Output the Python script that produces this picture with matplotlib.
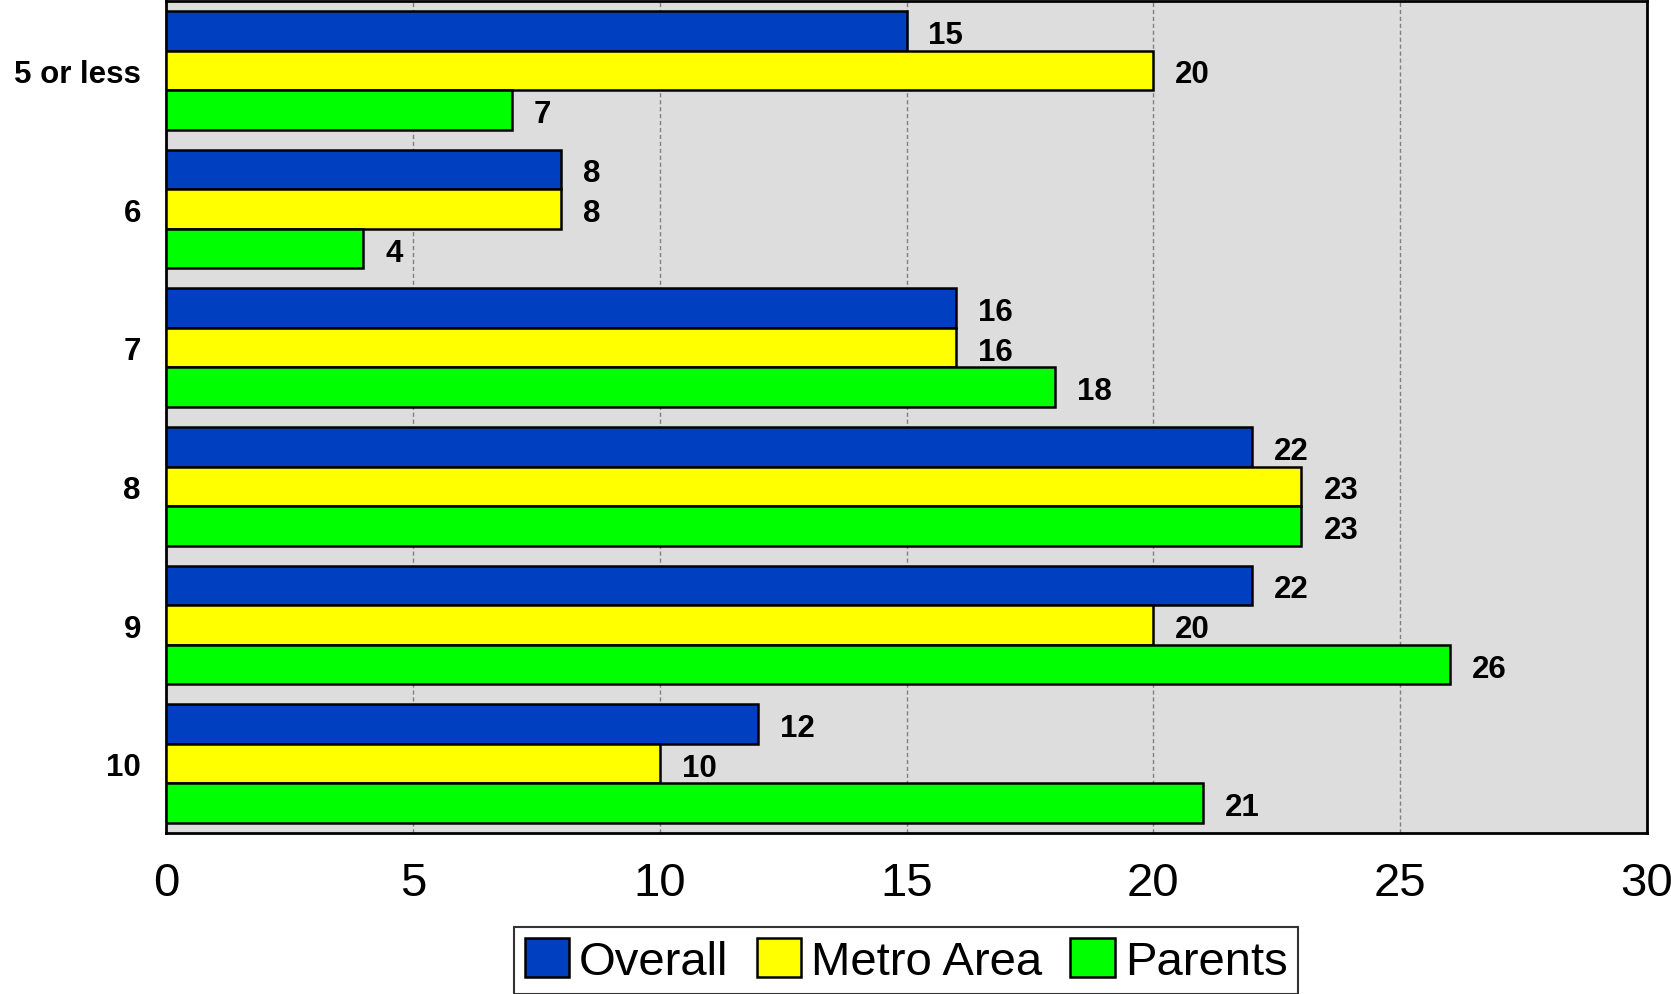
import numpy as np
import matplotlib
matplotlib.use('Agg')
import matplotlib.pyplot as plt

plt.rcParams['font.family'] = ['Liberation Sans', 'DejaVu Sans']

# Данные
categories = ['5 or less', '6', '7', '8', '9', '10']
overall = [15, 8, 16, 22, 22, 12]
metro = [20, 8, 16, 23, 20, 10]
parents = [7, 4, 18, 23, 26, 21]
series = [('Overall', overall, '#0040C0'),
          ('Metro Area', metro, '#FFFF00'),
          ('Parents', parents, '#00FF00')]

fig = plt.figure(figsize=(16.71, 9.95), dpi=100)
ax = fig.add_axes([166 / 1671, 1 - 834 / 995, (1647 - 166) / 1671, (834 - 2) / 995])
ax.set_facecolor('#DDDDDD')

y = np.arange(len(categories))
h = 0.285
for i, (name, vals, col) in enumerate(series):
    pos = y + (i - 1) * h
    ax.barh(pos, vals, height=h, color=col, edgecolor='black', linewidth=1.8,
            label=name, zorder=3)
    for p, v in zip(pos, vals):
        ax.annotate(f'{v}', (v, p), xytext=(22, -4), textcoords='offset pixels',
                    ha='left', va='center', fontsize=22.5, fontweight='bold')

ax.set_xlim(0, 30)
ax.set_ylim(len(categories) - 0.5, -0.5)
ax.set_xticks(range(0, 31, 5))
ax.set_yticks(y)
ax.set_yticklabels(categories, fontsize=22.5, fontweight='bold')
ax.tick_params(axis='x', labelsize=34, length=0, pad=20)
ax.tick_params(axis='y', length=0, pad=18)
ax.grid(axis='x', color='#808080', linestyle=(0, (3, 2)), linewidth=1, zorder=0)
for s in ax.spines.values():
    s.set_linewidth(2)

leg = fig.legend(loc='lower center', bbox_to_anchor=(906 / 1671, 0.0), ncol=3,
                 fontsize=34, frameon=True, fancybox=False, edgecolor='black',
                 handlelength=0.95, handleheight=0.9, handletextpad=0.2,
                 columnspacing=0.6, borderpad=0.22, borderaxespad=0)
leg.get_frame().set_linewidth(1.5)

fig.savefig('out.png', dpi=100)
